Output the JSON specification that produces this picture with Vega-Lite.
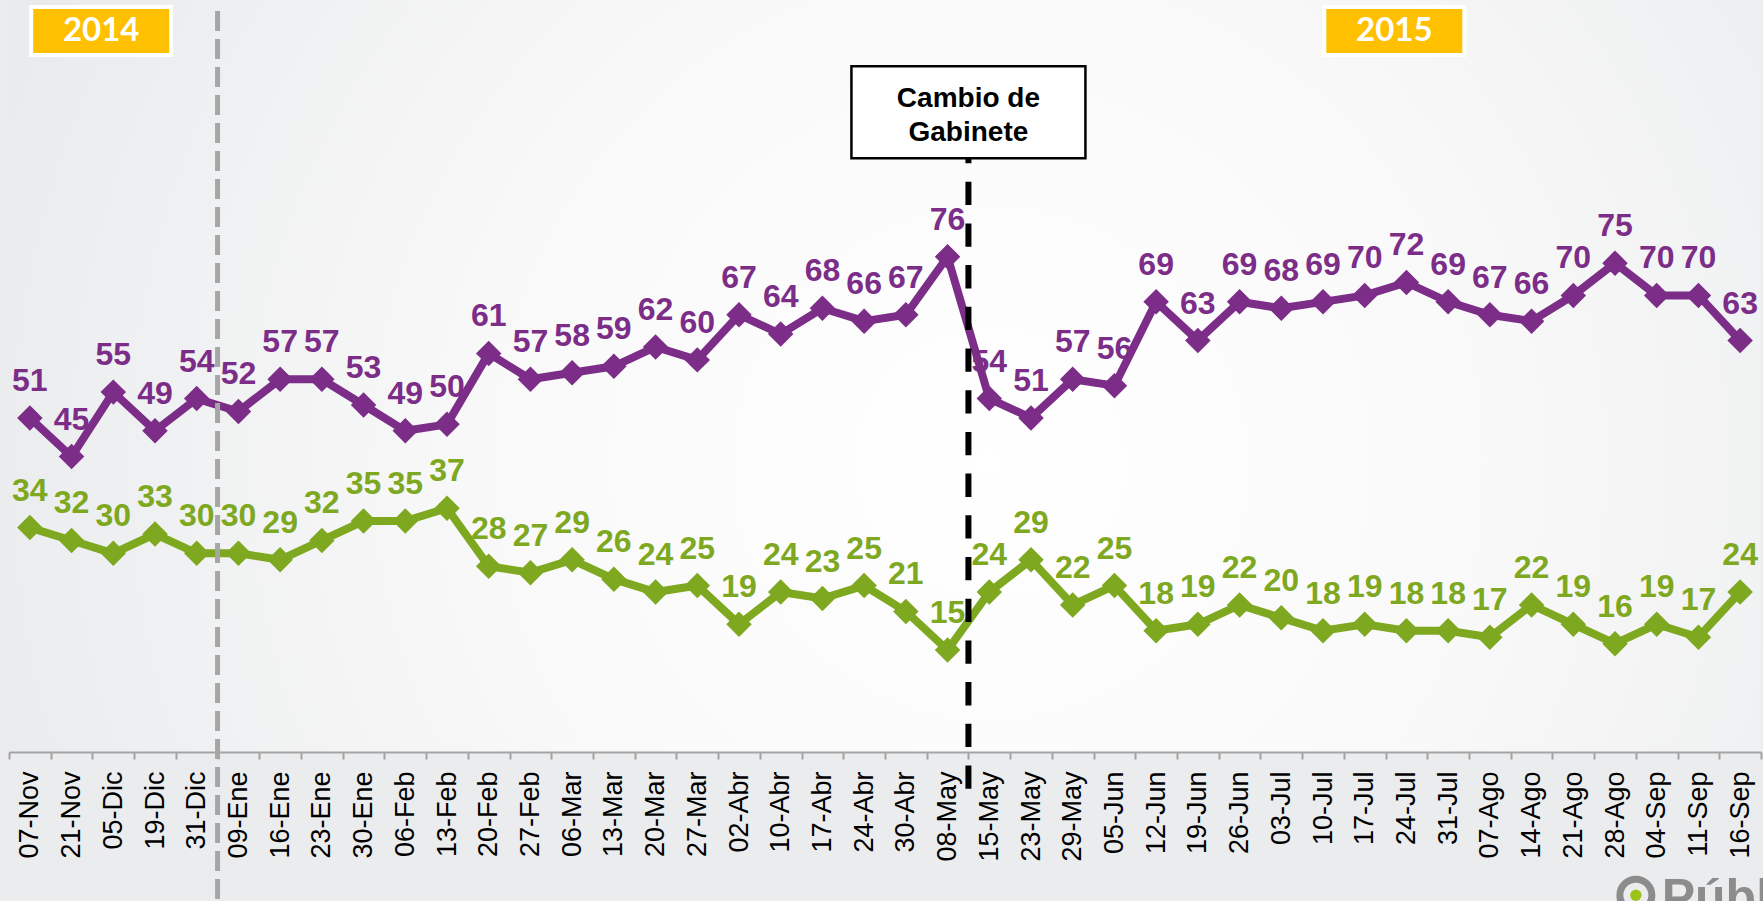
{
  "$schema": "https://vega.github.io/schema/vega-lite/v6.json",
  "width": 1752,
  "height": 752,
  "padding": {"left": 9, "top": 0, "right": 2, "bottom": 149},
  "autosize": {"type": "none"},
  "background": "#EBECEE",
  "view": {
    "stroke": null,
    "fill": {
      "gradient": "radial",
      "x1": 0.56, "y1": 0.55, "r1": 0,
      "x2": 0.56, "y2": 0.55, "r2": 0.62,
      "stops": [
        {"offset": 0, "color": "#FFFFFF"},
        {"offset": 0.45, "color": "#F9F9F9"},
        {"offset": 0.75, "color": "#F0F1F2"},
        {"offset": 1, "color": "#E9EAEC"}
      ]
    }
  },
  "config": {
    "font": "Liberation Sans",
    "axis": {"labelFont": "Liberation Sans"}
  },
  "datasets": {
    "series": [
      {"fecha": "07-Nov", "serie": "Desaprobación", "valor": 51},
      {"fecha": "21-Nov", "serie": "Desaprobación", "valor": 45},
      {"fecha": "05-Dic", "serie": "Desaprobación", "valor": 55},
      {"fecha": "19-Dic", "serie": "Desaprobación", "valor": 49},
      {"fecha": "31-Dic", "serie": "Desaprobación", "valor": 54},
      {"fecha": "09-Ene", "serie": "Desaprobación", "valor": 52},
      {"fecha": "16-Ene", "serie": "Desaprobación", "valor": 57},
      {"fecha": "23-Ene", "serie": "Desaprobación", "valor": 57},
      {"fecha": "30-Ene", "serie": "Desaprobación", "valor": 53},
      {"fecha": "06-Feb", "serie": "Desaprobación", "valor": 49},
      {"fecha": "13-Feb", "serie": "Desaprobación", "valor": 50},
      {"fecha": "20-Feb", "serie": "Desaprobación", "valor": 61},
      {"fecha": "27-Feb", "serie": "Desaprobación", "valor": 57},
      {"fecha": "06-Mar", "serie": "Desaprobación", "valor": 58},
      {"fecha": "13-Mar", "serie": "Desaprobación", "valor": 59},
      {"fecha": "20-Mar", "serie": "Desaprobación", "valor": 62},
      {"fecha": "27-Mar", "serie": "Desaprobación", "valor": 60},
      {"fecha": "02-Abr", "serie": "Desaprobación", "valor": 67},
      {"fecha": "10-Abr", "serie": "Desaprobación", "valor": 64},
      {"fecha": "17-Abr", "serie": "Desaprobación", "valor": 68},
      {"fecha": "24-Abr", "serie": "Desaprobación", "valor": 66},
      {"fecha": "30-Abr", "serie": "Desaprobación", "valor": 67},
      {"fecha": "08-May", "serie": "Desaprobación", "valor": 76},
      {"fecha": "15-May", "serie": "Desaprobación", "valor": 54},
      {"fecha": "23-May", "serie": "Desaprobación", "valor": 51},
      {"fecha": "29-May", "serie": "Desaprobación", "valor": 57},
      {"fecha": "05-Jun", "serie": "Desaprobación", "valor": 56},
      {"fecha": "12-Jun", "serie": "Desaprobación", "valor": 69},
      {"fecha": "19-Jun", "serie": "Desaprobación", "valor": 63},
      {"fecha": "26-Jun", "serie": "Desaprobación", "valor": 69},
      {"fecha": "03-Jul", "serie": "Desaprobación", "valor": 68},
      {"fecha": "10-Jul", "serie": "Desaprobación", "valor": 69},
      {"fecha": "17-Jul", "serie": "Desaprobación", "valor": 70},
      {"fecha": "24-Jul", "serie": "Desaprobación", "valor": 72},
      {"fecha": "31-Jul", "serie": "Desaprobación", "valor": 69},
      {"fecha": "07-Ago", "serie": "Desaprobación", "valor": 67},
      {"fecha": "14-Ago", "serie": "Desaprobación", "valor": 66},
      {"fecha": "21-Ago", "serie": "Desaprobación", "valor": 70},
      {"fecha": "28-Ago", "serie": "Desaprobación", "valor": 75},
      {"fecha": "04-Sep", "serie": "Desaprobación", "valor": 70},
      {"fecha": "11-Sep", "serie": "Desaprobación", "valor": 70},
      {"fecha": "16-Sep", "serie": "Desaprobación", "valor": 63},
      {"fecha": "07-Nov", "serie": "Aprobación", "valor": 34},
      {"fecha": "21-Nov", "serie": "Aprobación", "valor": 32},
      {"fecha": "05-Dic", "serie": "Aprobación", "valor": 30},
      {"fecha": "19-Dic", "serie": "Aprobación", "valor": 33},
      {"fecha": "31-Dic", "serie": "Aprobación", "valor": 30},
      {"fecha": "09-Ene", "serie": "Aprobación", "valor": 30},
      {"fecha": "16-Ene", "serie": "Aprobación", "valor": 29},
      {"fecha": "23-Ene", "serie": "Aprobación", "valor": 32},
      {"fecha": "30-Ene", "serie": "Aprobación", "valor": 35},
      {"fecha": "06-Feb", "serie": "Aprobación", "valor": 35},
      {"fecha": "13-Feb", "serie": "Aprobación", "valor": 37},
      {"fecha": "20-Feb", "serie": "Aprobación", "valor": 28},
      {"fecha": "27-Feb", "serie": "Aprobación", "valor": 27},
      {"fecha": "06-Mar", "serie": "Aprobación", "valor": 29},
      {"fecha": "13-Mar", "serie": "Aprobación", "valor": 26},
      {"fecha": "20-Mar", "serie": "Aprobación", "valor": 24},
      {"fecha": "27-Mar", "serie": "Aprobación", "valor": 25},
      {"fecha": "02-Abr", "serie": "Aprobación", "valor": 19},
      {"fecha": "10-Abr", "serie": "Aprobación", "valor": 24},
      {"fecha": "17-Abr", "serie": "Aprobación", "valor": 23},
      {"fecha": "24-Abr", "serie": "Aprobación", "valor": 25},
      {"fecha": "30-Abr", "serie": "Aprobación", "valor": 21},
      {"fecha": "08-May", "serie": "Aprobación", "valor": 15},
      {"fecha": "15-May", "serie": "Aprobación", "valor": 24},
      {"fecha": "23-May", "serie": "Aprobación", "valor": 29},
      {"fecha": "29-May", "serie": "Aprobación", "valor": 22},
      {"fecha": "05-Jun", "serie": "Aprobación", "valor": 25},
      {"fecha": "12-Jun", "serie": "Aprobación", "valor": 18},
      {"fecha": "19-Jun", "serie": "Aprobación", "valor": 19},
      {"fecha": "26-Jun", "serie": "Aprobación", "valor": 22},
      {"fecha": "03-Jul", "serie": "Aprobación", "valor": 20},
      {"fecha": "10-Jul", "serie": "Aprobación", "valor": 18},
      {"fecha": "17-Jul", "serie": "Aprobación", "valor": 19},
      {"fecha": "24-Jul", "serie": "Aprobación", "valor": 18},
      {"fecha": "31-Jul", "serie": "Aprobación", "valor": 18},
      {"fecha": "07-Ago", "serie": "Aprobación", "valor": 17},
      {"fecha": "14-Ago", "serie": "Aprobación", "valor": 22},
      {"fecha": "21-Ago", "serie": "Aprobación", "valor": 19},
      {"fecha": "28-Ago", "serie": "Aprobación", "valor": 16},
      {"fecha": "04-Sep", "serie": "Aprobación", "valor": 19},
      {"fecha": "11-Sep", "serie": "Aprobación", "valor": 17},
      {"fecha": "16-Sep", "serie": "Aprobación", "valor": 24}
    ],
    "years": [
      {"anio": "2014", "fecha": "05-Dic"},
      {"anio": "2015", "fecha": "24-Jul"}
    ],
    "nota": [
      {"fecha": "15-May", "texto": "Cambio de Gabinete"}
    ],
    "logo": [
      {"fecha": "04-Sep", "texto": "Públi"}
    ]
  },
  "encoding": {
    "x": {
      "field": "fecha",
      "type": "nominal",
      "bandPosition": 0.5,
      "scale": {
        "type": "band",
        "paddingInner": 0,
        "paddingOuter": 0,
        "domain": ["07-Nov","21-Nov","05-Dic","19-Dic","31-Dic","09-Ene","16-Ene","23-Ene","30-Ene","06-Feb","13-Feb","20-Feb","27-Feb","06-Mar","13-Mar","20-Mar","27-Mar","02-Abr","10-Abr","17-Abr","24-Abr","30-Abr","08-May","15-May","23-May","29-May","05-Jun","12-Jun","19-Jun","26-Jun","03-Jul","10-Jul","17-Jul","24-Jul","31-Jul","07-Ago","14-Ago","21-Ago","28-Ago","04-Sep","11-Sep","16-Sep"]
      },
      "axis": {
        "title": null,
        "labelAngle": -90,
        "labelFontSize": 27,
        "labelColor": "#000000",
        "labelPadding": 12,
        "labelOverlap": false,
        "tickBand": "extent",
        "tickSize": 7,
        "tickWidth": 2,
        "tickColor": "#A3A3A3",
        "domainColor": "#A3A3A3",
        "domainWidth": 2,
        "grid": false
      }
    }
  },
  "layer": [
    {
      "data": {"name": "series"},
      "mark": {"type": "line", "strokeWidth": 8},
      "encoding": {
        "y": {"field": "valor", "type": "quantitative", "scale": {"domain": [-0.8, 115.8], "nice": false, "zero": false}, "axis": null},
        "color": {"field": "serie", "type": "nominal", "scale": {"domain": ["Desaprobación", "Aprobación"], "range": ["#7B2D88", "#7DA81F"]}, "legend": null}
      }
    },
    {
      "data": {"name": "series"},
      "mark": {"type": "point", "shape": "diamond", "filled": true, "size": 650, "opacity": 1},
      "encoding": {
        "y": {"field": "valor", "type": "quantitative"},
        "color": {"field": "serie", "type": "nominal", "legend": null}
      }
    },
    {
      "data": {"name": "series"},
      "mark": {"type": "text", "fontSize": 32, "fontWeight": "bold", "dy": -27, "baseline": "alphabetic", "align": "center"},
      "encoding": {
        "y": {"field": "valor", "type": "quantitative"},
        "text": {"field": "valor", "type": "quantitative"},
        "color": {"field": "serie", "type": "nominal", "legend": null}
      }
    },
    {
      "data": {"name": "nota"},
      "mark": {"type": "rule", "color": "#A6A6A6", "strokeWidth": 5, "strokeDash": [20, 8]},
      "encoding": {
        "x": {"datum": "09-Ene", "bandPosition": 0},
        "y": {"datum": 114.1},
        "y2": {"datum": -24.5}
      }
    },
    {
      "data": {"name": "nota"},
      "mark": {"type": "rule", "color": "#000000", "strokeWidth": 6, "strokeDash": [23.3, 18.4], "strokeDashOffset": 18},
      "encoding": {
        "x": {"field": "fecha", "type": "nominal", "bandPosition": 0},
        "y": {"datum": 91.3},
        "y2": {"datum": -7}
      }
    },
    {
      "data": {"name": "nota"},
      "mark": {"type": "point", "shape": "M-1,-0.393H1V0.393H-1Z", "size": 54756, "filled": true, "fill": "#FFFFFF", "stroke": "#000000", "strokeWidth": 2.5, "opacity": 1},
      "encoding": {
        "x": {"field": "fecha", "type": "nominal", "bandPosition": 0},
        "y": {"datum": 98.4}
      }
    },
    {
      "data": {"name": "nota"},
      "mark": {"type": "text", "fontSize": 28, "fontWeight": "bold", "color": "#000000", "align": "center", "baseline": "alphabetic", "lineHeight": 34},
      "encoding": {
        "x": {"field": "fecha", "type": "nominal", "bandPosition": 0},
        "y": {"datum": 99.2},
        "text": {"value": ["Cambio de", "Gabinete"]}
      }
    },
    {
      "data": {"name": "years"},
      "mark": {"type": "point", "shape": "M-1,-0.343H1V0.343H-1Z", "size": 19600, "filled": true, "fill": "#FFC000", "stroke": "#FFFFFF", "strokeWidth": 4, "opacity": 1},
      "encoding": {
        "x": {"field": "fecha", "type": "nominal", "bandPosition": 0.21},
        "y": {"datum": 111.0}
      }
    },
    {
      "data": {"name": "years"},
      "mark": {"type": "text", "font": "Lato", "fontSize": 33, "fontWeight": "bold", "color": "#FFFFFF", "align": "center", "baseline": "middle"},
      "encoding": {
        "x": {"field": "fecha", "type": "nominal", "bandPosition": 0.21},
        "y": {"datum": 111.0},
        "text": {"field": "anio"}
      }
    },
    {
      "data": {"name": "logo"},
      "mark": {"type": "point", "shape": "circle", "filled": false, "size": 1024, "stroke": "#8C8C8C", "strokeWidth": 7, "opacity": 1},
      "encoding": {
        "x": {"field": "fecha", "type": "nominal", "bandPosition": 0},
        "y": {"datum": -23.0}
      }
    },
    {
      "data": {"name": "logo"},
      "mark": {"type": "point", "shape": "circle", "filled": true, "size": 130, "fill": "#9BC31C", "opacity": 1},
      "encoding": {
        "x": {"field": "fecha", "type": "nominal", "bandPosition": 0},
        "y": {"datum": -23.0}
      }
    },
    {
      "data": {"name": "logo"},
      "mark": {"type": "text", "fontSize": 50, "fontWeight": "bold", "color": "#8C8C8C", "align": "left", "baseline": "alphabetic"},
      "encoding": {
        "x": {"field": "fecha", "type": "nominal", "bandPosition": 0.62},
        "y": {"datum": -25.9},
        "text": {"field": "texto"}
      }
    }
  ]
}
